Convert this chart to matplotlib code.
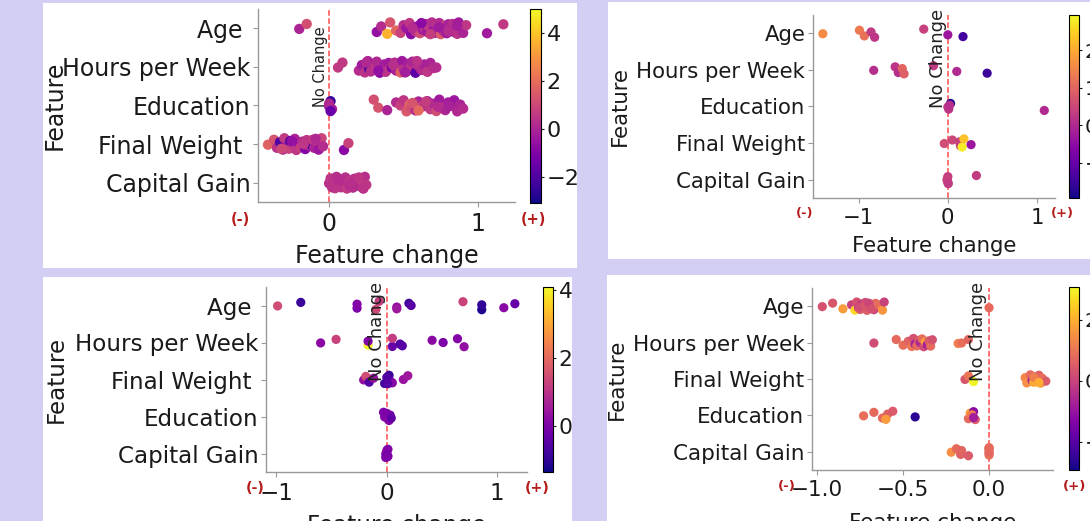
import matplotlib
matplotlib.use("Agg")
import matplotlib.pyplot as plt
from matplotlib.patches import Rectangle
import numpy as np

W, H = 1090, 521
BG = "#d2cef4"
SIGN_RED = "#b51c1c"

# ---- top-left: Age / Hours / Education / Final Weight / Capital Gain ----
p1_labels = ["Age ", "Hours per Week", "Education", "Final Weight ", "Capital Gain"]
p1_x = {
    "Age": [-0.2, -0.15, 0.32, 0.35, 0.39, 0.41, 0.45, 0.48, 0.5, 0.52, 0.54, 0.55, 0.57, 0.58,
            0.6, 0.61, 0.62, 0.63, 0.64, 0.65, 0.66, 0.67, 0.68, 0.69, 0.7, 0.71, 0.72, 0.73,
            0.74, 0.75, 0.76, 0.77, 0.78, 0.79, 0.8, 0.81, 0.82, 0.83, 0.84, 0.85, 0.86, 0.87,
            0.88, 0.9, 0.92, 0.56, 0.62, 0.68, 0.74, 0.8, 0.86, 1.06, 1.17],
    "Hours": [0.06, 0.09, 0.2, 0.22, 0.24, 0.26, 0.27, 0.28, 0.3, 0.31, 0.32, 0.34, 0.35, 0.36,
              0.37, 0.38, 0.4, 0.41, 0.42, 0.44, 0.45, 0.46, 0.48, 0.49, 0.5, 0.52, 0.53, 0.55,
              0.56, 0.58, 0.6, 0.62, 0.64, 0.66, 0.68, 0.7, 0.72, 0.25, 0.33, 0.43, 0.51, 0.59],
    "Education": [0.0, 0.01, 0.02, 0.0, 0.01, 0.3, 0.33, 0.39, 0.45, 0.48, 0.5, 0.52, 0.54, 0.55,
                  0.57, 0.58, 0.6, 0.62, 0.64, 0.66, 0.68, 0.7, 0.72, 0.74, 0.76, 0.78, 0.8, 0.82,
                  0.84, 0.86, 0.88, 0.9, 0.56, 0.6, 0.65, 0.73, 0.81],
    "Final Weight": [-0.41, -0.37, -0.35, -0.33, -0.31, -0.3, -0.28, -0.27, -0.26, -0.24, -0.23,
                     -0.22, -0.2, -0.19, -0.18, -0.16, -0.15, -0.14, -0.12, -0.11, -0.1, -0.08,
                     -0.07, -0.05, -0.04, -0.32, -0.25, -0.17, -0.09, 0.1, 0.13],
    "Capital Gain": [0.0, 0.01, 0.02, 0.03, 0.04, 0.05, 0.06, 0.08, 0.09, 0.1, 0.11, 0.12, 0.13,
                     0.14, 0.15, 0.16, 0.17, 0.18, 0.19, 0.2, 0.21, 0.22, 0.23, 0.24, 0.25, 0.02,
                     0.07, 0.15, 0.2, 0.23],
}
p1_c = {
    "Age": [0.0, 1.2, -0.6, 0.2, 3.6, 1.3, 1.8, 0.8, 0.3, -0.4, 0.5, -0.8, -0.2, 0.4, -0.3, 1.1,
            -0.2, -0.6, 0.3, 0.1, -0.4, 0.6, -0.3, 0.2, -0.5, -0.1, 0.4, -0.3, 0.1, 1.5, -0.2,
            0.3, 1.2, -0.4, -0.1, 0.5, -0.2, 0.2, -0.6, 0.1, 0.4, -0.3, 0.3, 0.0, 0.5, 0.2, -0.8,
            0.7, -0.3, 0.2, -0.2, -0.3, 0.6],
    "Hours": [0.6, 0.6, 0.2, -0.3, 0.4, 0.0, -2.3, 0.3, -0.5, 0.5, 0.1, -0.8, 0.2, -2.0, -0.2,
              0.4, -0.3, 0.6, -1.0, 0.2, -0.1, 0.5, 1.7, -0.4, 0.3, 0.1, -0.2, 0.4, 0.0, -1.8,
              0.3, 0.2, -0.1, 0.5, 0.0, 0.3, 0.2, 0.1, -0.6, 0.3, -0.2, 0.4],
    "Education": [-0.5, -2.5, -0.2, 0.1, -1.5, 1.2, 1.3, 0.0, 0.2, 0.8, 0.5, 1.4, 1.8, 1.2, 1.6,
                  0.3, 0.0, 1.0, 0.4, -0.2, 0.6, 0.1, 1.1, -0.3, 0.5, 0.0, -0.2, 0.3, -0.4, 0.1,
                  0.0, 0.2, 1.3, 1.9, 0.7, 0.2, -0.1],
    "Final Weight": [1.7, 1.3, 0.4, -2.0, 0.2, 0.6, -0.3, 0.8, -2.1, 0.3, 0.0, 0.5, -0.5, 0.7,
                     0.2, -1.0, 0.4, 0.1, -2.2, 0.6, 0.0, 0.3, -0.4, 0.9, 0.2, 1.0, -0.6, 0.5,
                     0.1, -0.8, 0.8],
    "Capital Gain": [0.3, 0.5, 0.2, 0.4, 0.6, 0.3, 0.1, 0.4, 0.5, 0.2, 0.3, 0.6, 0.4, 0.2, 0.5,
                     0.3, 0.4, 0.1, 0.5, 0.3, 0.2, 0.6, 0.4, 0.3, 0.5, 0.4, 0.2, 0.3, 0.5, 0.4],
}

# ---- top-right ----
p2_labels = ["Age", "Hours per Week", "Education", "Final Weight", "Capital Gain"]
p2_x = {
    "Age": [-1.40, -0.99, -0.935, -0.86, -0.82, -0.27, 0.0, 0.17],
    "Hours": [-0.83, -0.59, -0.555, -0.51, -0.49, -0.16, 0.10, 0.44],
    "Education": [0.0, 0.03, 0.01, 0.02, 1.08],
    "Final Weight": [-0.04, 0.05, 0.14, 0.13, 0.16, 0.18, 0.26],
    "Capital Gain": [-0.01, 0.0, 0.0, -0.005, 0.005, 0.32],
}
p2_c = {
    "Age": [1.6, 1.3, 1.2, 0.3, 0.2, 0.4, -0.3, -1.4],
    "Hours": [0.1, 0.2, 0.1, 1.0, 0.9, 0.3, 0.0, -1.5],
    "Education": [0.3, -1.8, 0.2, 0.1, 0.0],
    "Final Weight": [0.6, 0.5, 0.5, 0.4, 2.8, 2.3, -0.3],
    "Capital Gain": [0.4, 0.3, 0.5, 0.4, 0.3, 0.3],
}

# ---- bottom-left ----
p3_labels = ["Age ", "Hours per Week", "Final Weight ", "Education", "Capital Gain"]
p3_x = {
    "Age": [-0.99, -0.78, -0.27, -0.27, -0.1, -0.07, 0.09, 0.09, 0.2, 0.22, 0.69, 0.86, 0.86,
            1.06, 1.16],
    "Hours": [-0.6, -0.46, -0.17, -0.17, 0.05, 0.05, 0.12, 0.14, 0.41, 0.51, 0.64, 0.70],
    "Final Weight": [-0.21, -0.19, -0.16, -0.12, -0.02, 0.02, 0.03, 0.05, 0.0, 0.15, 0.19, 0.01],
    "Education": [-0.02, 0.0, 0.01, 0.03, 0.02, -0.03, 0.04],
    "Capital Gain": [-0.01, 0.0, 0.01, 0.0, -0.01, 0.01, 0.0, 0.005],
}
p3_c = {
    "Age": [1.5, -0.9, 0.0, 0.1, 1.4, 1.2, 0.3, 0.5, -0.8, -0.5, 1.3, -1.2, -1.0, 0.2, -0.3],
    "Hours": [0.2, 1.3, 4.0, 0.1, -0.3, 1.2, -0.6, -0.5, 0.2, 0.0, 0.1, 0.3],
    "Final Weight": [0.3, 1.5, -0.6, 0.4, -0.8, -0.9, -0.3, 0.2, -0.6, 0.4, 0.5, -0.5],
    "Education": [0.1, 0.0, 0.2, -0.1, 0.1, 0.0, -0.4],
    "Capital Gain": [0.0, 0.1, -0.1, 0.2, 0.0, 0.1, -0.2, 0.0],
}

# ---- bottom-right ----
p4_labels = ["Age", "Hours per Week", "Final Weight", "Education", "Capital Gain"]
p4_x = {
    "Age": [-0.97, -0.91, -0.85, -0.80, -0.78, -0.77, -0.76, -0.75, -0.74, -0.73, -0.72, -0.71,
            -0.70, -0.69, -0.68, -0.67, -0.66, -0.75, -0.72, -0.70, -0.68, -0.64, -0.62, -0.61,
            0.0],
    "Hours": [-0.67, -0.54, -0.50, -0.47, -0.45, -0.44, -0.43, -0.42, -0.41, -0.40, -0.39, -0.38,
              -0.37, -0.36, -0.35, -0.34, -0.33, -0.18, -0.16, -0.12],
    "Final Weight": [-0.14, -0.12, -0.09, 0.21, 0.22, 0.24, 0.25, 0.26, 0.27, 0.28, 0.29, 0.30,
                     0.31, 0.33, 0.26, 0.29],
    "Education": [-0.73, -0.67, -0.62, -0.59, -0.60, -0.56, -0.43, -0.12, -0.11, -0.10, -0.09,
                  -0.08, -0.1, -0.09],
    "Capital Gain": [-0.22, -0.19, -0.165, -0.16, -0.12, 0.0, 0.0, 0.0, 0.0, 0.0, 0.0],
}
p4_c = {
    "Age": [0.3, 0.4, 1.7, 0.0, 2.6, 0.3, 0.0, 0.5, -0.2, 0.4, 0.2, 0.6, 0.1, 0.3, 0.5, 0.0,
            0.8, 0.2, 0.4, 0.1, 0.3, 0.9, 1.6, 0.0, 0.8],
    "Hours": [0.2, 0.8, 0.9, 0.6, 1.0, 0.3, -0.8, 0.8, 0.4, -0.6, 0.9, 0.2, 1.8, -0.7, 0.5, 0.8,
              0.3, 1.2, 0.9, 0.7],
    "Final Weight": [0.4, 1.0, 3.0, 1.3, 1.5, 0.8, -0.5, 1.9, 0.8, 1.4, 0.6, 1.6, 0.9, 0.5, 1.2,
                     2.0],
    "Education": [0.9, 0.8, 0.8, 0.6, 1.7, 0.5, -2.6, 0.8, 1.7, 0.9, -1.2, 0.5, 1.1, -0.8],
    "Capital Gain": [1.5, 0.8, 0.6, 0.7, 0.5, 0.8, 0.7, 0.9, 0.8, 0.7, 0.8],
}

# strip-plot style vertical scatter inside each category row
JITTER = np.array([0.1, -0.7, 0.6, -0.3, 0.9, -0.95, 0.35, 0.75, -0.5, 0.0, -0.85, 0.95,
                   -0.15, 0.5, -0.4, 0.8, -0.65, 0.2])


def px_rect(x0, y0, x1, y1):
    return [x0 / W, 1 - y1 / H, (x1 - x0) / W, (y1 - y0) / H]


def key_of(label):
    label = label.strip()
    return "Hours" if label.startswith("Hours") else label


def draw_panel(fig, box, ax_px, cb_px, labels, xs, cs, vmin, vmax, xlim, xticks, cticks,
               fs, nc_fs, minus_at, plus_at, ylab_x, xlab_y, size=42, amp=0.15):
    fig.add_artist(Rectangle((box[0] / W, 1 - box[3] / H), (box[2] - box[0]) / W,
                             (box[3] - box[1]) / H, transform=fig.transFigure,
                             facecolor="white", edgecolor="none", zorder=-1))
    ax = fig.add_axes(px_rect(*ax_px))
    cax = fig.add_axes(px_rect(*cb_px))

    all_x, all_y, all_c = [], [], []
    for row, lab in enumerate(labels):
        k = key_of(lab)
        n = len(xs[k])
        all_x += xs[k]
        all_c += cs[k]
        all_y += list(row + amp * JITTER[np.arange(n) % len(JITTER)])

    ax.axvline(0, color="#ff4d4d", linestyle="--", lw=1.1, zorder=1)
    sc = ax.scatter(all_x, all_y, c=all_c, cmap="plasma", vmin=vmin, vmax=vmax,
                    s=size, linewidths=0, zorder=2)
    ax.text(-0.01, 2.05, "No Change", rotation=90, ha="right", va="bottom",
            fontsize=nc_fs, color="#222222", zorder=3)

    ax.set_yticks(range(len(labels)))
    ax.set_yticklabels(labels, fontsize=fs, color="#1a1a1a")
    ax.set_ylim(len(labels) - 0.5, -0.5)
    ax.set_xlim(*xlim)
    ax.set_xticks(xticks)
    ax.tick_params(axis="x", labelsize=fs, colors="#1a1a1a", length=3.5, pad=4)
    ax.tick_params(axis="y", length=3.5, pad=2, colors="#1a1a1a")
    ax.tick_params(axis="both", color="#999999")
    for side in ("top", "right"):
        ax.spines[side].set_visible(False)
    for side in ("left", "bottom"):
        ax.spines[side].set_color("#999999")
        ax.spines[side].set_linewidth(1.0)

    ax.set_ylabel("Feature", fontsize=fs, color="#1a1a1a")
    ax.yaxis.set_label_coords(ylab_x, 0.5)
    ax.set_xlabel("Feature change", fontsize=fs, color="#1a1a1a")
    ax.xaxis.set_label_coords(0.5, xlab_y)

    ax.text(minus_at[0], minus_at[1], "(-)", transform=ax.transAxes, ha="center",
            va="center", color=SIGN_RED, fontsize=fs * 0.62, fontweight="bold")
    ax.text(plus_at[0], plus_at[1], "(+)", transform=ax.transAxes, ha="center",
            va="center", color=SIGN_RED, fontsize=fs * 0.62, fontweight="bold")

    cb = fig.colorbar(sc, cax=cax, ticks=cticks)
    cb.outline.set_linewidth(0.8)
    cb.ax.tick_params(labelsize=fs * 0.95, length=2.5, pad=1.5, colors="#1a1a1a")
    return ax


fig = plt.figure(figsize=(W / 100, H / 100), dpi=100, facecolor=BG)

draw_panel(fig, (43, 3, 577, 268), (258, 9, 515, 202), (530, 9, 541, 203),
           p1_labels, p1_x, p1_c, -3.1, 5.0, (-0.477, 1.248), [0, 1], [-2, 0, 2, 4],
           fs=17, nc_fs=10.5, minus_at=(-0.07, -0.09), plus_at=(1.07, -0.09),
           ylab_x=-0.745, xlab_y=-0.22, size=55, amp=0.16)

draw_panel(fig, (608, 2, 1090, 259), (813, 15, 1055, 198), (1069, 15, 1079, 198),
           p2_labels, p2_x, p2_c, -1.93, 2.93, (-1.51, 1.20), [-1, 0, 1], [-1, 0, 1, 2],
           fs=15.3, nc_fs=13, minus_at=(-0.033, -0.082), plus_at=(1.029, -0.082),
           ylab_x=-0.755, xlab_y=-0.21, size=44, amp=0.12)

draw_panel(fig, (43, 277, 572, 521), (266, 287, 527, 472), (543, 287, 553, 472),
           p3_labels, p3_x, p3_c, -1.35, 4.1, (-1.095, 1.27), [-1, 0, 1], [0, 2, 4],
           fs=16.6, nc_fs=13, minus_at=(-0.042, -0.086), plus_at=(1.038, -0.086),
           ylab_x=-0.76, xlab_y=-0.225, size=44, amp=0.12)

draw_panel(fig, (607, 275, 1090, 521), (812, 288, 1053, 470), (1069, 287, 1079, 470),
           p4_labels, p4_x, p4_c, -2.92, 3.08, (-1.03, 0.372), [-1.0, -0.5, 0.0], [-2, 0, 2],
           fs=15.5, nc_fs=13, minus_at=(-0.104, -0.093), plus_at=(1.091, -0.093),
           ylab_x=-0.77, xlab_y=-0.235, size=44, amp=0.12)

fig.savefig("out.png", dpi=100, facecolor=BG)
